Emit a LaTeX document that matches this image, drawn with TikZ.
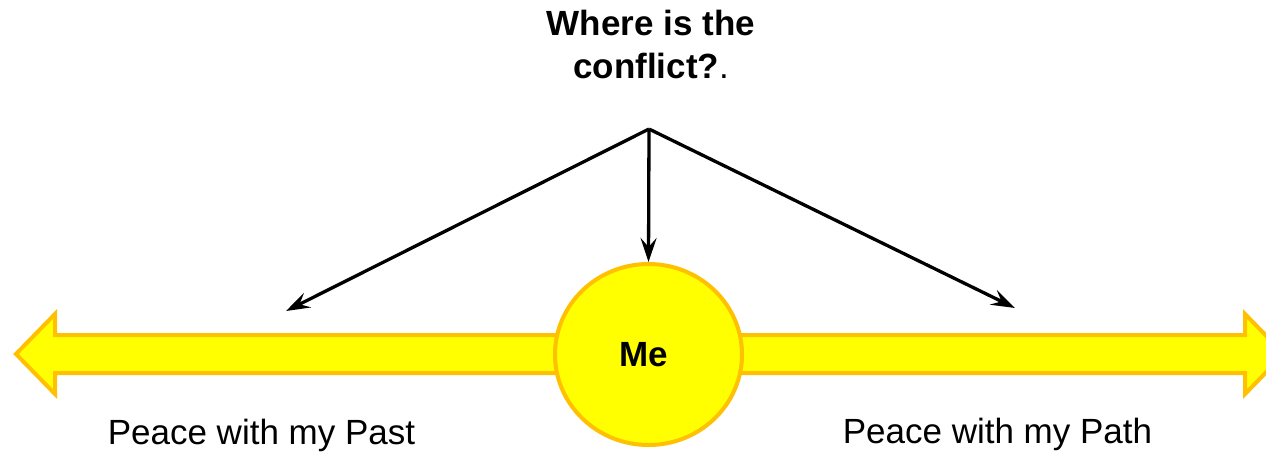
\documentclass[tikz,border=0pt]{standalone}
\usepackage{fontspec}
\setmainfont{Liberation Sans}
\usetikzlibrary{shapes.geometric,arrows.meta}
\definecolor{barfill}{HTML}{FFFF00}
\definecolor{barline}{HTML}{FFC000}
\tikzset{
  bigfont/.style={font=\fontsize{35}{43}\selectfont},
  boldfont/.style={font=\fontsize{35}{43}\selectfont\bfseries},
  band/.style={fill=barfill,draw=barline,line width=4pt,line join=miter},
  mebox/.style={ellipse,fill=barfill,draw=barline,line width=4pt,minimum width=187pt,minimum height=181pt,inner sep=0pt},
  pointer/.style={line width=3.3pt,-{Stealth[length=24pt,width=16pt,inset=9pt]}},
  caption/.style={bigfont,anchor=base,inner sep=0pt}
}
\begin{document}
\begin{tikzpicture}[x=1pt,y=-1pt]
\path[use as bounding box] (0,0) rectangle (1266,451);
\clip (0,0) rectangle (1266,451);
\fill[white] (0,0) rectangle (1266,451);
% double arrow band
\draw[band] (16,354) -- (55,314) -- (55,335) -- (1245,335) -- (1245,314)
  -- (1284,354) -- (1245,394) -- (1245,373) -- (55,373) -- (55,394) -- cycle;
% central circle
\node[mebox,label={[boldfont,xshift=-5pt]center:Me}] (me) at (648.5,354.5) {};
% title
\node[bigfont,align=center,inner sep=0pt] (title) at (651,44) {\textbf{Where is the}\\\textbf{conflict?}.};
% apex and ends
\coordinate (apex) at (649,129);
\coordinate (pastend) at (286,311);
\coordinate (pathend) at (1015,308);
\draw[pointer] (apex) -- (pastend);
\draw[pointer] (apex) -- (me.north);
\draw[pointer] (apex) -- (pathend);
% captions
\node[caption] (past) at (261.5,444) {Peace with my Past};
\node[caption] (path) at (997.5,443) {Peace with my Path};
\end{tikzpicture}
\end{document}
